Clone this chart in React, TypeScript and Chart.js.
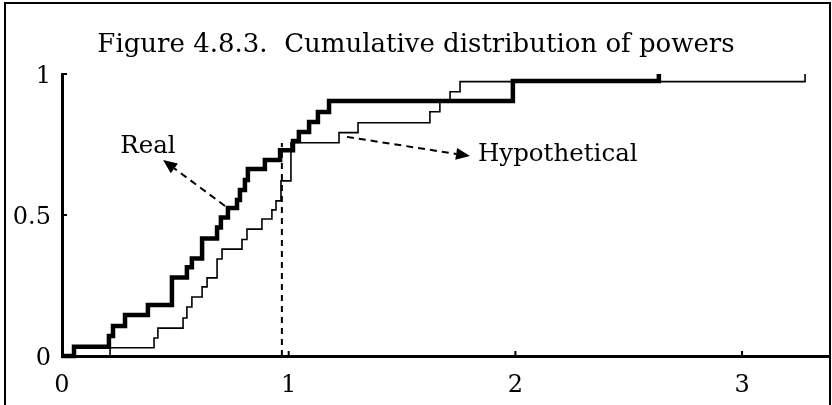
import { useEffect, useRef } from 'react';
import { Chart, registerables } from 'chart.js';

Chart.register(...registerables);

const titleText = 'Figure 4.8.3.  Cumulative distribution of powers';
const seriesNames = ['Real', 'Hypothetical'];
const xTicks = [0, 1, 2, 3];
const yTicks = [0, 0.5, 1];

// Empirical cumulative distribution: x where each step occurs, level after the step
const realX = [0, 0.053, 0.207, 0.225, 0.278, 0.379, 0.485, 0.551, 0.573, 0.618, 0.684, 0.701, 0.732, 0.772, 0.785, 0.807, 0.82, 0.895, 0.962, 1.019, 1.045, 1.09, 1.129, 1.178, 1.989, 2.633];
const realY = [0, 0.033, 0.071, 0.106, 0.145, 0.181, 0.278, 0.315, 0.346, 0.417, 0.456, 0.491, 0.525, 0.553, 0.589, 0.624, 0.663, 0.695, 0.73, 0.762, 0.794, 0.83, 0.865, 0.904, 0.975, 1.0];
const hypoX = [0, 0.212, 0.406, 0.423, 0.534, 0.551, 0.573, 0.618, 0.64, 0.684, 0.706, 0.794, 0.816, 0.882, 0.926, 0.944, 0.966, 1.01, 1.222, 1.306, 1.623, 1.667, 1.712, 1.756, 3.278];
const hypoY = [0, 0.029, 0.064, 0.099, 0.135, 0.174, 0.209, 0.245, 0.277, 0.344, 0.379, 0.413, 0.45, 0.486, 0.518, 0.55, 0.621, 0.756, 0.792, 0.827, 0.866, 0.902, 0.937, 0.973, 1.0];

// Annotation anchors, in data units
const cutoffX = 0.97;
const cutoffTop = 0.755;
const realArrowFrom = [0.719, 0.532];
const realArrowTo = [0.446, 0.695];
const realLabelAt = [0.379, 0.741];
const hypoArrowFrom = [1.257, 0.777];
const hypoArrowTo = [1.8, 0.709];
const hypoLabelAt = [1.835, 0.713];

const FONT = '"DejaVu Serif", serif';
const TITLE_SIZE = 26;
const LABEL_SIZE = 24.5;
const TICK_SIZE = 24;

const toPoints = (xs: number[], ys: number[]) => xs.map((x, i) => ({ x, y: ys[i] }));

function dashedArrow(ctx: CanvasRenderingContext2D, x1: number, y1: number, x2: number, y2: number) {
  const ang = Math.atan2(y2 - y1, x2 - x1);
  const headLen = 14;
  const headHalf = 6;
  const bx = x2 - Math.cos(ang) * headLen;
  const by = y2 - Math.sin(ang) * headLen;
  ctx.save();
  ctx.setLineDash([7, 5]);
  ctx.lineWidth = 2;
  ctx.beginPath();
  ctx.moveTo(x1, y1);
  ctx.lineTo(bx, by);
  ctx.stroke();
  ctx.setLineDash([]);
  ctx.beginPath();
  ctx.moveTo(x2, y2);
  ctx.lineTo(bx + Math.sin(ang) * headHalf, by - Math.cos(ang) * headHalf);
  ctx.lineTo(bx - Math.sin(ang) * headHalf, by + Math.cos(ang) * headHalf);
  ctx.closePath();
  ctx.fill();
  ctx.restore();
}

const decorations = {
  id: 'decorations',
  beforeDraw(chart: any) {
    const { ctx, width, height } = chart;
    ctx.save();
    ctx.fillStyle = '#fff';
    ctx.fillRect(0, 0, width, height);
    ctx.restore();
  },
  afterDraw(chart: any) {
    const { ctx } = chart;
    const sx = chart.scales.x;
    const sy = chart.scales.y;
    const px = (v: number) => sx.getPixelForValue(v);
    const py = (v: number) => sy.getPixelForValue(v);
    ctx.save();
    ctx.strokeStyle = '#000';
    ctx.fillStyle = '#000';

    // outer frame
    ctx.lineWidth = 2;
    ctx.strokeRect(5, 3, 825, 420);

    // title
    ctx.font = `${TITLE_SIZE}px ${FONT}`;
    ctx.textAlign = 'center';
    ctx.textBaseline = 'alphabetic';
    ctx.fillText(titleText, 416, 52);

    // short inward tick marks
    ctx.lineWidth = 2;
    ctx.beginPath();
    for (const t of yTicks.slice(1)) {
      ctx.moveTo(px(0), py(t));
      ctx.lineTo(px(0) + 5, py(t));
    }
    for (const t of xTicks.slice(1)) {
      ctx.moveTo(px(t), py(0));
      ctx.lineTo(px(t), py(0) - 5);
    }
    ctx.stroke();

    // dashed cut-off line
    ctx.save();
    ctx.setLineDash([6, 5]);
    ctx.lineWidth = 2;
    ctx.beginPath();
    ctx.moveTo(px(cutoffX), py(0));
    ctx.lineTo(px(cutoffX), py(cutoffTop));
    ctx.stroke();
    ctx.restore();

    // series call-outs
    dashedArrow(ctx, px(realArrowFrom[0]), py(realArrowFrom[1]), px(realArrowTo[0]), py(realArrowTo[1]));
    dashedArrow(ctx, px(hypoArrowFrom[0]), py(hypoArrowFrom[1]), px(hypoArrowTo[0]), py(hypoArrowTo[1]));
    ctx.font = `${LABEL_SIZE}px ${FONT}`;
    ctx.textBaseline = 'middle';
    ctx.textAlign = 'center';
    ctx.fillText(seriesNames[0], px(realLabelAt[0]), py(realLabelAt[1]));
    ctx.textAlign = 'left';
    ctx.fillText(seriesNames[1], px(hypoLabelAt[0]), py(hypoLabelAt[1]));
    ctx.restore();
  },
};

export default function App() {
  const canvasRef = useRef<HTMLCanvasElement | null>(null);

  useEffect(() => {
    const canvas = canvasRef.current;
    if (!canvas) return;
    const chart = new Chart(canvas, {
      type: 'scatter',
      data: {
        datasets: [
          {
            label: seriesNames[0],
            data: toPoints(realX, realY),
            showLine: true,
            stepped: 'before',
            borderColor: '#000',
            borderWidth: 4.5,
            borderJoinStyle: 'miter',
            borderCapStyle: 'butt',
            pointRadius: 0,
            clip: false,
          },
          {
            label: seriesNames[1],
            data: toPoints(hypoX, hypoY),
            showLine: true,
            stepped: 'before',
            borderColor: '#000',
            borderWidth: 1.6,
            borderJoinStyle: 'miter',
            borderCapStyle: 'butt',
            pointRadius: 0,
            clip: false,
          },
        ],
      },
      options: {
        animation: false,
        responsive: false,
        events: [],
        layout: { padding: { left: 0, right: 2, top: 74, bottom: 0 } },
        plugins: {
          legend: { display: false },
          tooltip: { enabled: false },
          title: { display: false },
        },
        scales: {
          x: {
            type: 'linear',
            min: 0,
            max: 3.388,
            afterFit: (scale: any) => {
              scale.height = 49;
            },
            afterBuildTicks: (scale: any) => {
              scale.ticks = xTicks.map((v) => ({ value: v }));
            },
            grid: { display: true, drawOnChartArea: false, drawTicks: false },
            border: { display: true, color: '#000', width: 3 },
            ticks: {
              color: '#000',
              padding: 15,
              font: { family: FONT, size: TICK_SIZE },
              maxRotation: 0,
              autoSkip: false,
            },
          },
          y: {
            type: 'linear',
            min: 0,
            max: 1,
            afterFit: (scale: any) => {
              scale.width = 62;
            },
            afterBuildTicks: (scale: any) => {
              scale.ticks = yTicks.map((v) => ({ value: v }));
            },
            grid: { display: true, drawOnChartArea: false, drawTicks: false },
            border: { display: true, color: '#000', width: 3 },
            ticks: {
              color: '#000',
              padding: 11,
              labelOffset: 3,
              font: { family: FONT, size: TICK_SIZE },
              callback: (v: any) => String(v),
            },
          },
        },
      },
      plugins: [decorations],
    });
    return () => chart.destroy();
  }, []);

  return (
    <div style={{ position: 'absolute', left: 0, top: 0, width: 832, height: 405, background: '#fff' }}>
      <canvas ref={canvasRef} width={832} height={405} style={{ display: 'block', width: 832, height: 405 }} />
    </div>
  );
}
